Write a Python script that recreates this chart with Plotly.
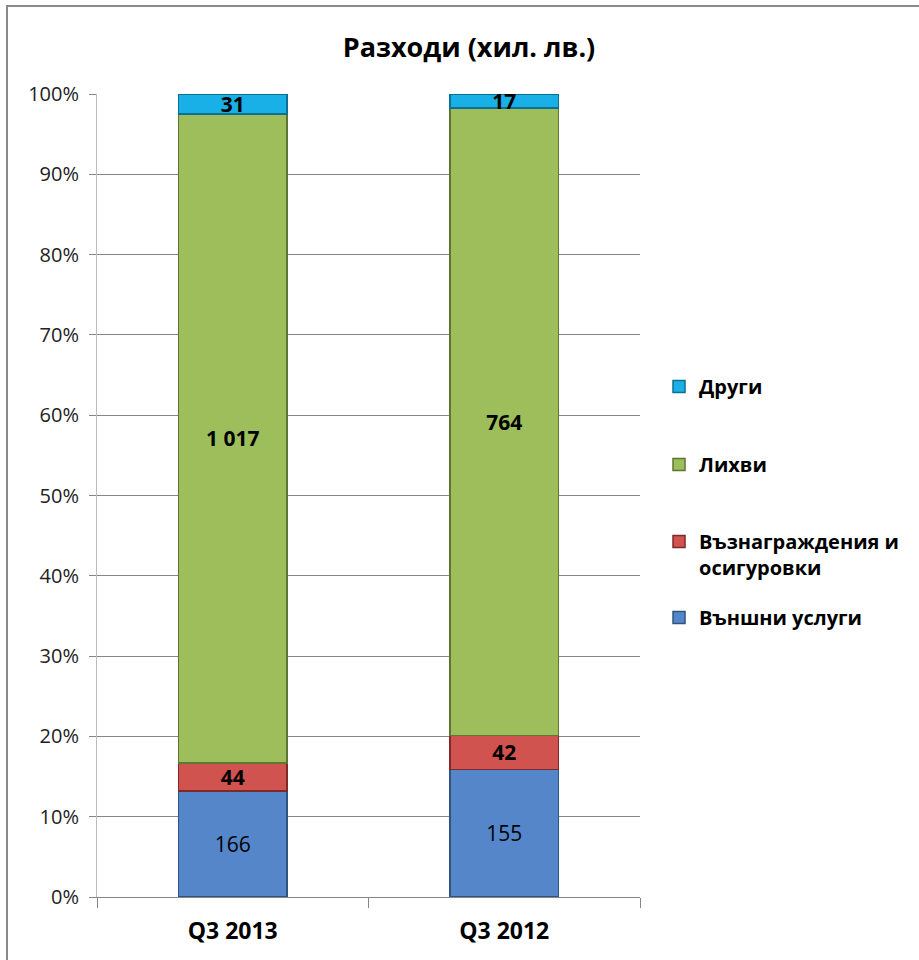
import plotly.graph_objects as go

categories = ["Q3 2013", "Q3 2012"]
series_names = ["Външни услуги", "Възнаграждения и<br>осигуровки", "Лихви", "Други"]
vanshni = [166, 155]
vaznagr = [44, 42]
lihvi = [1017, 764]
drugi = [31, 17]
labels_vanshni = ["166", "155"]
labels_vaznagr = ["<b>44</b>", "<b>42</b>"]
labels_lihvi = ["<b>1 017</b>", "<b>764</b>"]
labels_drugi = ["<b>31</b>", "<b>17</b>"]

fills = ["#5486C9", "#D0534F", "#9DBE5B", "#18B0E6"]
edges = ["#2F5482", "#7E2A28", "#5D7632", "#0C6F94"]

FONT = "Open Sans"
W, H = 919, 960
PL, PR, PT, PB = 97, 640, 94, 897  # plot area in page pixels


def px_to_paper_x(px):
    return (px - PL) / (PR - PL)


def px_to_paper_y(py):
    return (PB - py) / (PB - PT)


fig = go.Figure()
data = [vanshni, vaznagr, lihvi, drugi]
labs = [labels_vanshni, labels_vaznagr, labels_lihvi, labels_drugi]
legends = ["legend4", "legend3", "legend2", "legend"]
for name, vals, lab, fc, ec, lg in zip(series_names, data, labs, fills, edges, legends):
    fig.add_trace(go.Bar(
        x=categories, y=vals, name=name, text=lab, textposition="inside",
        insidetextanchor="middle", textangle=0, constraintext="none",
        textfont=dict(family=FONT, size=21, color="#000000"),
        marker=dict(color=fc, line=dict(color=ec, width=1.5)),
        legend=lg,
    ))

leg_common = dict(xanchor="left", yanchor="top", valign="top",
                  font=dict(family=FONT, size=20, color="#000000", weight="bold"),
                  itemwidth=30, bgcolor="rgba(0,0,0,0)")
leg_x = px_to_paper_x(659)
fig.update_layout(
    barmode="stack", barnorm="percent", bargap=0.6,
    width=W, height=H,
    margin=dict(l=PL, r=W - PR, t=PT, b=H - PB, autoexpand=False),
    paper_bgcolor="white", plot_bgcolor="white",
    title=dict(text="<b>Разходи (хил. лв.)</b>", x=469 / W, xanchor="center",
               y=1 - 48 / H, yanchor="middle",
               font=dict(family=FONT, size=27, color="#000000")),
    font=dict(family=FONT, color="#000000"),
    legend=dict(x=leg_x, y=px_to_paper_y(385 - 18), **leg_common),
    legend2=dict(x=leg_x, y=px_to_paper_y(463 - 18), **leg_common),
    legend3=dict(x=leg_x, y=px_to_paper_y(540 - 18), **leg_common),
    legend4=dict(x=leg_x, y=px_to_paper_y(616 - 18), **leg_common),
    showlegend=True,
)
fig.update_yaxes(range=[0, 100], dtick=10, ticksuffix="%",
                 showgrid=True, gridcolor="#868686", gridwidth=1,
                 ticks="outside", ticklen=7, tickcolor="#868686",
                 showline=True, linecolor="#BDBDBD", linewidth=1,
                 zeroline=False,
                 tickfont=dict(family=FONT, size=20, color="#222222"),
                 ticklabelstandoff=6)
fig.update_xaxes(showline=True, linecolor="#868686", linewidth=1,
                 ticks="outside", tickson="boundaries", ticklen=10,
                 tickcolor="#868686",
                 tickfont=dict(family=FONT, size=23, color="#000000"),
                 tickprefix="<b>", ticksuffix="</b>",
                 ticklabelstandoff=13)
fig.add_shape(type="rect", xref="paper", yref="paper",
              x0=px_to_paper_x(7), x1=px_to_paper_x(930),
              y0=px_to_paper_y(970), y1=px_to_paper_y(6),
              line=dict(color="#8A8A8A", width=2), fillcolor="rgba(0,0,0,0)",
              layer="above")
fig.write_html("out.html", config={"displayModeBar": False},
               post_script="document.body.style.margin='0px';document.body.style.overflow='hidden';")
